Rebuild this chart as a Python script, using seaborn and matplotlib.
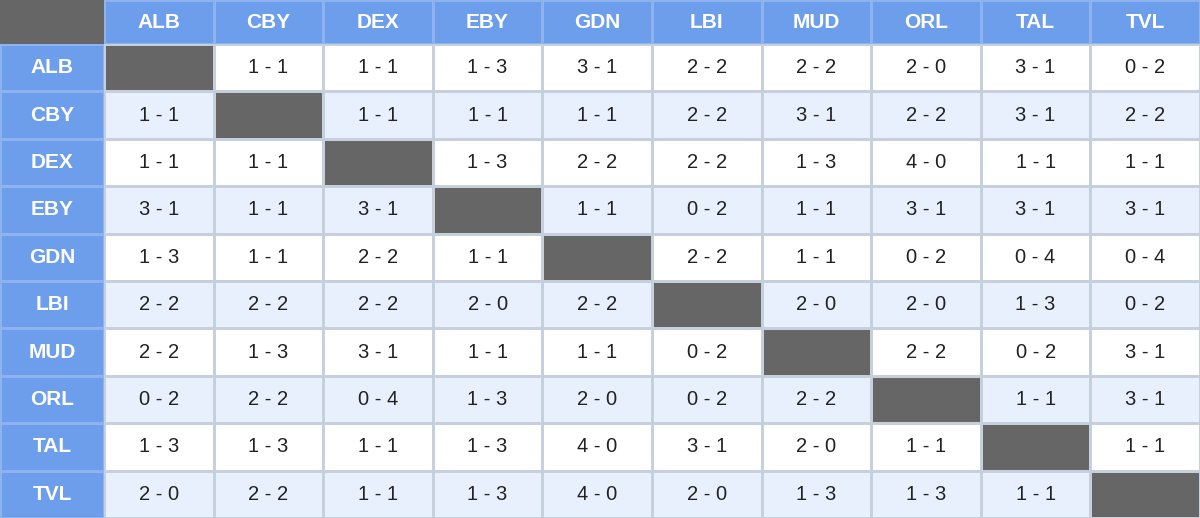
import numpy as np
import matplotlib
matplotlib.use("Agg")
import matplotlib.pyplot as plt
from matplotlib.colors import ListedColormap
import seaborn as sns

teams = ["ALB", "CBY", "DEX", "EBY", "GDN", "LBI", "MUD", "ORL", "TAL", "TVL"]
results = [
    ["", "1 - 1", "1 - 1", "1 - 3", "3 - 1", "2 - 2", "2 - 2", "2 - 0", "3 - 1", "0 - 2"],
    ["1 - 1", "", "1 - 1", "1 - 1", "1 - 1", "2 - 2", "3 - 1", "2 - 2", "3 - 1", "2 - 2"],
    ["1 - 1", "1 - 1", "", "1 - 3", "2 - 2", "2 - 2", "1 - 3", "4 - 0", "1 - 1", "1 - 1"],
    ["3 - 1", "1 - 1", "3 - 1", "", "1 - 1", "0 - 2", "1 - 1", "3 - 1", "3 - 1", "3 - 1"],
    ["1 - 3", "1 - 1", "2 - 2", "1 - 1", "", "2 - 2", "1 - 1", "0 - 2", "0 - 4", "0 - 4"],
    ["2 - 2", "2 - 2", "2 - 2", "2 - 0", "2 - 2", "", "2 - 0", "2 - 0", "1 - 3", "0 - 2"],
    ["2 - 2", "1 - 3", "3 - 1", "1 - 1", "1 - 1", "0 - 2", "", "2 - 2", "0 - 2", "3 - 1"],
    ["0 - 2", "2 - 2", "0 - 4", "1 - 3", "2 - 0", "0 - 2", "2 - 2", "", "1 - 1", "3 - 1"],
    ["1 - 3", "1 - 3", "1 - 1", "1 - 3", "4 - 0", "3 - 1", "2 - 0", "1 - 1", "", "1 - 1"],
    ["2 - 0", "2 - 2", "1 - 1", "1 - 3", "4 - 0", "2 - 0", "1 - 3", "1 - 3", "1 - 1", ""],
]

BLUE = "#6d9eeb"
LIGHT = "#e8f0fe"
GRAY = "#666666"
LINE = "#c6cfdc"
plt.rcParams["font.family"] = ["Liberation Sans", "DejaVu Sans"]

n = len(teams)
kind = np.array([[2 if i == j else (i % 2) for j in range(n)] for i in range(n)])

W, H = 1200, 518
hw, hh = 104, 44
fig = plt.figure(figsize=(12, 5.18), dpi=100)

ax_body = fig.add_axes([hw / W, 0, 1 - hw / W, 1 - hh / H])
sns.heatmap(kind, ax=ax_body, cmap=ListedColormap(["white", LIGHT, GRAY]), vmin=-0.5, vmax=2.5,
            cbar=False, annot=np.array(results), fmt="", linewidths=1, linecolor=LINE,
            annot_kws={"fontsize": 14.5, "color": "#222222"})
ax_body.set_xticks([]); ax_body.set_yticks([])

ax_top = fig.add_axes([hw / W, 1 - hh / H, 1 - hw / W, hh / H])
sns.heatmap(np.zeros((1, n)), ax=ax_top, cmap=ListedColormap([BLUE]), cbar=False,
            annot=np.array([teams]), fmt="", linewidths=1, linecolor="#8fb3ef",
            annot_kws={"fontsize": 15, "color": "white", "fontweight": "bold"})
ax_top.set_xticks([]); ax_top.set_yticks([])

ax_left = fig.add_axes([0, 0, hw / W, 1 - hh / H])
sns.heatmap(np.zeros((n, 1)), ax=ax_left, cmap=ListedColormap([BLUE]), cbar=False,
            annot=np.array([[t] for t in teams]), fmt="", linewidths=1, linecolor="#8fb3ef",
            annot_kws={"fontsize": 15, "color": "white", "fontweight": "bold"})
ax_left.set_xticks([]); ax_left.set_yticks([])

ax_c = fig.add_axes([0, 1 - hh / H, hw / W, hh / H])
sns.heatmap(np.zeros((1, 1)), ax=ax_c, cmap=ListedColormap([GRAY]), cbar=False)
ax_c.set_xticks([]); ax_c.set_yticks([])

fig.savefig("out.png", dpi=100)
